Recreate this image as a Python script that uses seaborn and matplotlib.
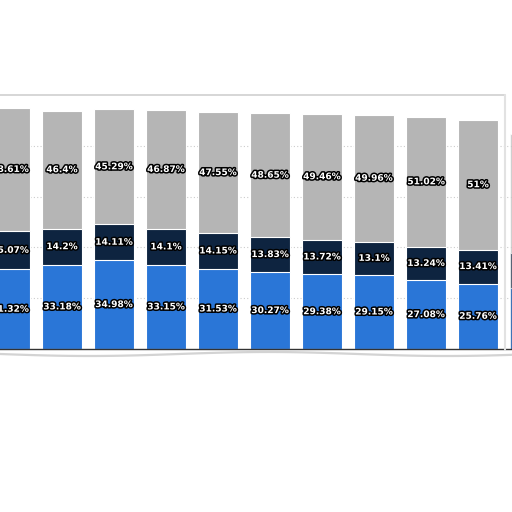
import matplotlib
matplotlib.use("Agg")
import matplotlib.pyplot as plt
import matplotlib.patheffects as pe
import seaborn as sns
import pandas as pd
import numpy as np

categories = ["1", "2", "3", "4", "5", "6", "7", "8", "9", "10", "11"]
blue_vals = [31.32, 33.18, 34.98, 33.15, 31.53, 30.27, 29.38, 29.15, 27.08, 25.76, 24.0]
navy_vals = [15.07, 14.2, 14.11, 14.1, 14.15, 13.83, 13.72, 13.1, 13.24, 13.41, 13.8]
gray_vals = [48.61, 46.4, 45.29, 46.87, 47.55, 48.65, 49.46, 49.96, 51.02, 51.0, 47.0]
label_blue = ["31.32%", "33.18%", "34.98%", "33.15%", "31.53%", "30.27%", "29.38%", "29.15%", "27.08%", "25.76%", ""]
label_navy = ["15.07%", "14.2%", "14.11%", "14.1%", "14.15%", "13.83%", "13.72%", "13.1%", "13.24%", "13.41%", ""]
label_gray = ["48.61%", "46.4%", "45.29%", "46.87%", "47.55%", "48.65%", "49.46%", "49.96%", "51.02%", "51%", ""]

GRAY = "#b5b5b5"
NAVY = "#0e2440"
BLUE = "#2a76d7"

df = pd.DataFrame({"cat": categories, "blue": blue_vals, "navy": navy_vals, "gray": gray_vals})
df["c_blue"] = df["blue"]
df["c_navy"] = df["blue"] + df["navy"]
df["c_gray"] = df["c_navy"] + df["gray"]

sns.set_theme(style="white")
fig = plt.figure(figsize=(5.12, 5.12), dpi=100)
fig.patch.set_facecolor("white")
ax = fig.add_axes([0, (512 - 349) / 512, 1, 254 / 512])
ax.set_facecolor("white")

w = 40 / 52
for col, color in [("c_gray", GRAY), ("c_navy", NAVY), ("c_blue", BLUE)]:
    sns.barplot(data=df, x="cat", y=col, color=color, width=w, ax=ax,
                edgecolor="white", linewidth=0.8, saturation=1, zorder=2)

n = len(categories)
for p in ax.patches:
    cx = p.get_x() + p.get_width() / 2
    if round(cx) == n - 1:
        p.set_alpha(0.65)

# x limits: pixel 0 -> -10/52, pixel 512 -> 502/52
ax.set_xlim(-10 / 52, 502 / 52)
ax.set_ylim(0, 100)

for yv in [20, 40, 60, 80]:
    ax.axhline(yv, color="#cccccc", linestyle=(0, (1, 2)), linewidth=0.8, zorder=0)

stroke = [pe.withStroke(linewidth=2.2, foreground="black")]
for i in range(n):
    segs = [(df["blue"][i] / 2, label_blue[i]),
            (df["c_blue"][i] + df["navy"][i] / 2, label_navy[i]),
            (df["c_navy"][i] + df["gray"][i] / 2, label_gray[i])]
    for yv, txt in segs:
        if txt:
            ax.text(i, yv, txt, ha="center", va="center", color="white",
                    fontsize=6.5, fontweight="bold", path_effects=stroke, zorder=5)

for s in ["left", "right", "top"]:
    ax.spines[s].set_visible(False)
ax.spines["bottom"].set_color("#333333")
ax.spines["bottom"].set_linewidth(1.0)
ax.set_xticks([])
ax.set_yticks([])
ax.set_xlabel("")
ax.set_ylabel("")

# paper frame decorations
fig.add_artist(plt.Line2D([0, 505 / 512], [1 - 95 / 512, 1 - 95 / 512], color="#d0d0d0", linewidth=1.2))
fig.add_artist(plt.Line2D([505 / 512, 505 / 512], [1 - 95 / 512, 1 - 350 / 512], color="#e2e2e2", linewidth=1.5))
xs = np.linspace(0, 1, 60)
fig.add_artist(plt.Line2D(xs, 1 - (354 + 2 * np.sin(xs * 9)) / 512, color="#c8c8c8", linewidth=1.6, alpha=0.8))

fig.savefig("out.png", dpi=100, facecolor="white")
